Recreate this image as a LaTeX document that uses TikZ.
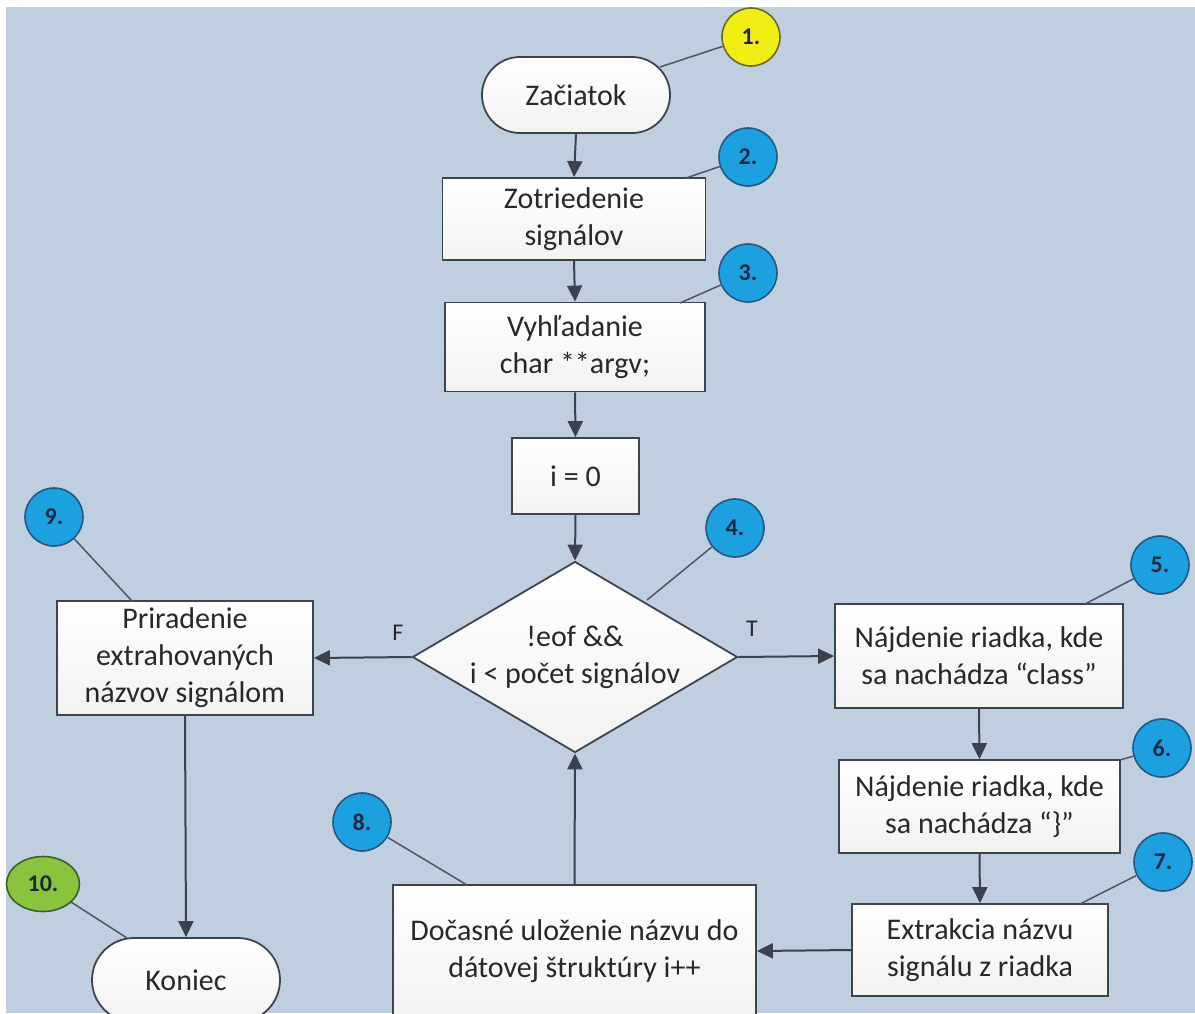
\documentclass[tikz,border=0pt]{standalone}
\usepackage{fontspec}
\setmainfont{Carlito}
\usetikzlibrary{arrows.meta,shapes.geometric}

\definecolor{bgblue}{RGB}{192,207,224}
\definecolor{edgegray}{RGB}{62,68,78}
\definecolor{txt}{RGB}{40,40,42}
\definecolor{arrowgray}{RGB}{58,66,78}
\definecolor{leader}{RGB}{78,86,98}
\definecolor{badgeblue}{RGB}{28,160,224}
\definecolor{badgeedge}{RGB}{34,88,132}
\definecolor{badgeyellow}{RGB}{240,238,20}
\definecolor{yellowedge}{RGB}{105,105,45}
\definecolor{badgegreen}{RGB}{138,196,62}
\definecolor{greenedge}{RGB}{58,96,40}
\definecolor{badgetext}{RGB}{30,40,66}

\begin{document}
\begin{tikzpicture}[x=1pt,y=-1pt,
  font=\fontsize{30}{37}\selectfont, text=txt,
  box/.style={draw=edgegray, line width=1.8pt, top color=white, bottom color=black!5,
    align=center, inner sep=0pt},
  terminal/.style={box, rounded corners=#1},
  decision/.style={diamond, draw=edgegray, line width=1.8pt, top color=white,
    bottom color=black!5, inner sep=0pt},
  badge/.style={circle, minimum size=58pt, inner sep=0pt, fill=badgeblue,
    draw=badgeedge, line width=1.6pt, text=badgetext,
    font=\fontsize{24}{28}\selectfont\bfseries},
  arr/.style={draw=arrowgray, line width=2pt,
    -{Triangle[length=16pt,width=15pt]}},
  lead/.style={draw=leader, line width=1.5pt},
  flag/.style={font=\fontsize{24}{28}\selectfont, text=txt}
]
% page area: white rim at top and left, blue canvas elsewhere
\clip (0,0) rectangle (1195,1013);
\fill[white] (0,0) rectangle (1195,1013);
\fill[bgblue] (6,7) rectangle (1195,1013);

% main flow
\node[terminal=38pt, minimum width=188pt, minimum height=76pt] (start) at (576,95) {Začiatok};
\node[box, minimum width=263pt, minimum height=82pt] (sort) at (574,219) {Zotriedenie\\signálov};
\node[box, minimum width=260pt, minimum height=89pt] (find) at (575,347) {Vyhľadanie\\char **argv;};
\node[box, minimum width=127pt, minimum height=76pt] (init) at (575.5,476) {i = 0};
\node[decision, minimum width=325pt, minimum height=191pt,
  label={[align=center, text=txt]center:{!eof \&\&\\i < počet signálov}}] (dec) at (575,657) {};

\node[box, minimum width=288pt, minimum height=104pt] (cls) at (979,656)
  {Nájdenie riadka, kde\\sa nachádza “class”};
\node[box, minimum width=281pt, minimum height=93pt] (brace) at (979.5,806.5)
  {Nájdenie riadka, kde\\sa nachádza “\}”};
\node[box, minimum width=256pt, minimum height=92pt] (extr) at (980,950)
  {Extrakcia názvu\\signálu z riadka};
\node[box, minimum width=363pt, minimum height=132pt] (store) at (574.5,951)
  {Dočasné uloženie názvu do\\dátovej štruktúry i++};

\node[box, minimum width=256pt, minimum height=114pt] (assign) at (185,658)
  {Priradenie\\extrahovaných\\názvov signálom};
\node[terminal=42pt, minimum width=188pt, minimum height=84pt] (stop) at (186,980) {Koniec};

% connectors
\draw[arr] (start.south) -- (sort.north);
\draw[arr] (sort.south) -- (find.north);
\draw[arr] (find.south) -- (init.north);
\draw[arr] (init.south) -- (dec.north);
\draw[arr] (dec.east) -- (cls.west);
\draw[arr] (cls.south) -- (brace.north);
\draw[arr] (brace.south) -- (extr.north);
\draw[arr] (extr.west) -- (store.east);
\draw[arr] (store.north) -- (dec.south);
\draw[arr] (dec.west) -- (assign.east);
\draw[arr] (assign.south) -- (stop.north);

\node[flag] (lf) at (398,633) {F};
\node[flag] (lt) at (752,629) {T};

% numbered call-outs
\node[badge, fill=badgeyellow, draw=yellowedge] (n1) at (751,37) {1.};
\node[badge] (n2) at (748,157) {2.};
\node[badge] (n3) at (748,273) {3.};
\node[badge] (n4) at (735,528) {4.};
\node[badge] (n5) at (1160,565) {5.};
\node[badge] (n6) at (1162,748) {6.};
\node[badge] (n7) at (1163,862) {7.};
\node[badge] (n8) at (362,822) {8.};
\node[badge] (n9) at (54,517) {9.};
\node[badge, ellipse, minimum width=73pt, minimum height=55pt, fill=badgegreen,
  draw=greenedge] (n10) at (43,884) {10.};

\coordinate (t1) at (660,67);
\coordinate (t2) at (686,178);
\coordinate (t3) at (680,303);
\coordinate (t4) at (647,600);
\coordinate (t5) at (1085,604);
\coordinate (t6) at (1120,760);
\coordinate (t7) at (1080,904);
\coordinate (t8) at (467,885);
\coordinate (t9) at (132,601);
\coordinate (t10) at (127,938);

\draw[lead] (n1) -- (t1);
\draw[lead] (n2) -- (t2);
\draw[lead] (n3) -- (t3);
\draw[lead] (n4) -- (t4);
\draw[lead] (n5) -- (t5);
\draw[lead] (n6) -- (t6);
\draw[lead] (n7) -- (t7);
\draw[lead] (n8) -- (t8);
\draw[lead] (n9) -- (t9);
\draw[lead] (n10) -- (t10);
\end{tikzpicture}
\end{document}
